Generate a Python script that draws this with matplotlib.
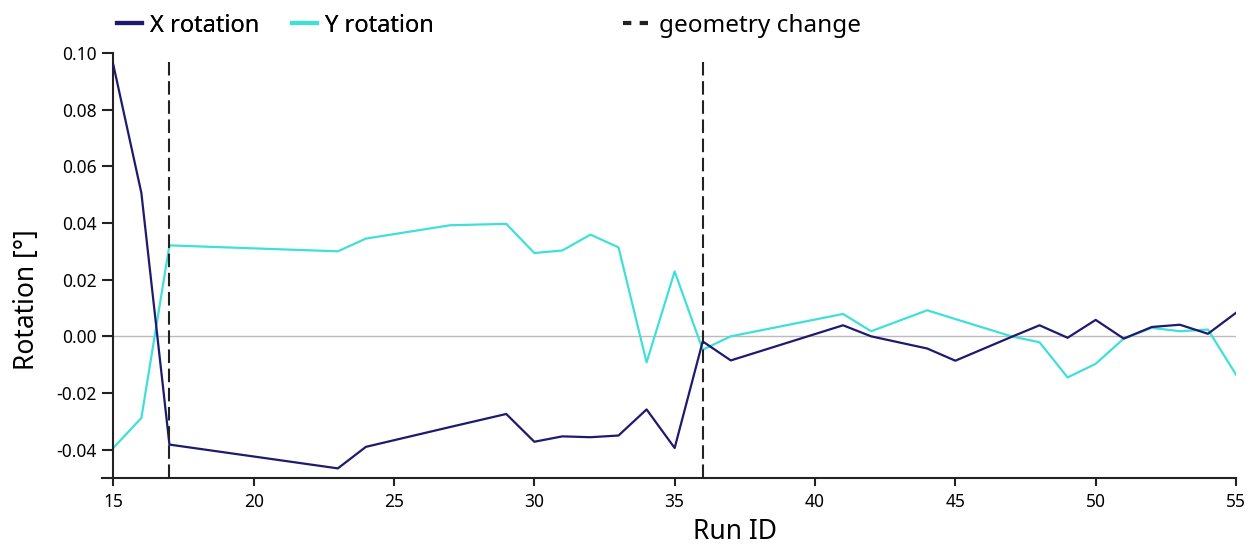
import matplotlib

matplotlib.use("Agg")
import matplotlib.pyplot as plt
from matplotlib.lines import Line2D

plt.rcParams["font.family"] = ["Noto Sans", "DejaVu Sans"]

run_id = [15, 16, 17, 23, 24, 27, 29, 30, 31, 32, 33, 34, 35, 36, 37,
          41, 42, 44, 45, 47, 48, 49, 50, 51, 52, 53, 54, 55]
x_rot = [0.0959, 0.0506, -0.0382, -0.0466, -0.0390, -0.0320, -0.0274, -0.0372,
         -0.0353, -0.0356, -0.0350, -0.0258, -0.0394, -0.0018, -0.0085,
         0.0039, 0.0000, -0.0043, -0.0086, -0.0002, 0.0039, -0.0005, 0.0058,
         -0.0008, 0.0033, 0.0041, 0.0009, 0.0083]
y_rot = [-0.0394, -0.0288, 0.0321, 0.0300, 0.0345, 0.0392, 0.0397, 0.0294,
         0.0303, 0.0359, 0.0314, -0.0092, 0.0229, -0.0047, 0.0000,
         0.0079, 0.0018, 0.0092, 0.0061, 0.0000, -0.0021, -0.0145, -0.0097,
         -0.0008, 0.0030, 0.0018, 0.0024, -0.0135]
geometry_change = [17, 36]

NAVY = "#1e1a6e"
CYAN = "#40e0d8"

fig = plt.figure(figsize=(12.57, 5.45), dpi=100)
ax = fig.add_axes([0.0812, 0.1229, 0.9021, 0.7799])

ax.axhline(0, color="#bbbbbb", lw=1, zorder=1)
ax.plot(run_id, x_rot, color=NAVY, lw=1.6, zorder=3)
ax.plot(run_id, y_rot, color=CYAN, lw=1.6, zorder=2)
ax.vlines(geometry_change, -0.05, 0.097, colors="#222222", linestyles=(0, (6.5, 2.7)),
          lw=1.5, zorder=4)

ax.set_xlim(14.6, 55)
ax.set_ylim(-0.05, 0.10)
ax.spines["left"].set_position(("data", 15))
ax.spines["right"].set_visible(False)
ax.spines["top"].set_visible(False)
for s in ("left", "bottom"):
    ax.spines[s].set_linewidth(1.5)
    ax.spines[s].set_color("#222222")

ax.set_xticks(range(15, 56, 5))
ax.set_yticks([-0.04, -0.02, 0.0, 0.02, 0.04, 0.06, 0.08, 0.10])
ax.set_yticklabels([f"{v:.2f}" for v in ax.get_yticks()])
ax.tick_params(axis="y", length=8, width=1.5, labelsize=12.5, color="#222222", pad=4)
ax.tick_params(axis="x", length=6, width=1.5, labelsize=12.5, color="#222222", pad=5)
ax.set_xlabel("Run ID", fontsize=19)
ax.set_ylabel("Rotation [°]", fontsize=19)
ax.xaxis.set_label_coords(0.558, -0.095)
ax.yaxis.set_label_coords(-0.054, 0.419)

h1 = [Line2D([], [], color=NAVY, lw=3), Line2D([], [], color=CYAN, lw=3)]
leg1 = fig.legend(h1, ["X rotation", "Y rotation"], loc="center left",
                  bbox_to_anchor=(0.076, 0.953), ncol=2, frameon=False,
                  fontsize=17, handlelength=1.05, handletextpad=0.35,
                  columnspacing=1.4)
h2 = [Line2D([], [], color="#222222", lw=3, ls=(0, (2, 2)))]
fig.legend(h2, ["geometry change"], loc="center left",
           bbox_to_anchor=(0.478, 0.953), frameon=False, fontsize=17.5,
           handlelength=1.15, handletextpad=0.35)
fig.add_artist(leg1)

fig.savefig("out.png", dpi=100)
